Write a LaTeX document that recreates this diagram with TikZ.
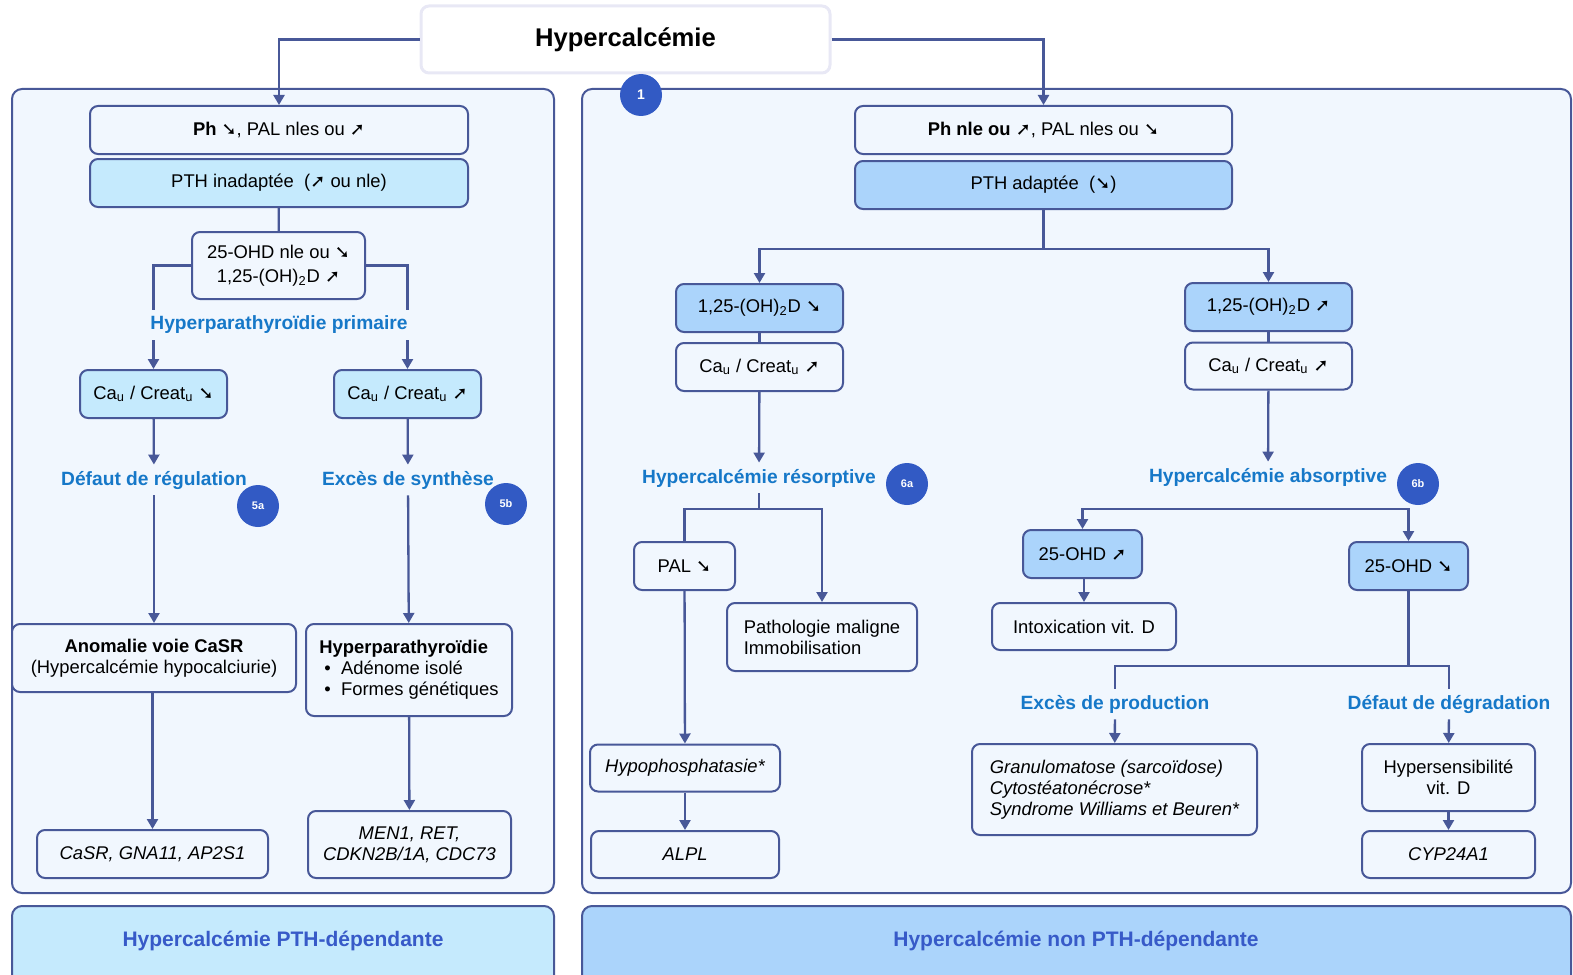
\documentclass[tikz,border=0pt]{standalone}
\usepackage{fontspec}
\setmainfont{Liberation Sans}
\newfontfamily\symfont{DejaVu Sans}
\usetikzlibrary{arrows.meta}

\definecolor{lineC}{RGB}{72,88,152}
\definecolor{lblC}{RGB}{22,120,200}
\definecolor{numC}{RGB}{50,90,196}
\definecolor{cyanC}{RGB}{197,234,253}
\definecolor{blueC}{RGB}{171,212,251}
\definecolor{panelC}{RGB}{241,247,254}
\definecolor{banC}{RGB}{55,90,200}
\definecolor{titleC}{RGB}{232,232,245}

\newcommand{\arrdn}{{\symfont\bfseries\fontsize{9}{9}\selectfont\char"2798}}
\newcommand{\arrup}{{\symfont\bfseries\fontsize{9}{9}\selectfont\char"279A}}

\begin{document}
\begin{tikzpicture}[x=0.5pt, y=-0.5pt,
  every node/.style={font=\fontsize{9.2}{10.5}\selectfont},
  box/.style={draw=lineC, line width=1pt, rounded corners=4pt, fill=panelC, align=center, inner sep=0pt},
  cbox/.style={box, fill=cyanC},
  bbox/.style={box, fill=blueC},
  gene/.style={box, font=\fontsize{9.2}{10.5}\selectfont\itshape},
  lbl/.style={text=lblC, inner sep=3pt, font=\fontsize{9.6}{12}\selectfont\bfseries},
  num/.style={circle, fill=numC, text=white, minimum size=21pt, inner sep=0pt, font=\fontsize{5.5}{6}\selectfont\bfseries},
  ln/.style={draw=lineC, line width=1.15pt},
  arr/.style={ln, -{Triangle[length=5pt,width=5.5pt]}}]
\clip (0,0) rectangle (1573,974);
% panels and banners
\draw[draw=lineC, line width=1pt, fill=panelC, rounded corners=5pt] (12,89) rectangle (554,893);
\draw[draw=lineC, line width=1pt, fill=panelC, rounded corners=5pt] (582,89) rectangle (1571,893);
\draw[draw=lineC, line width=1pt, fill=cyanC, rounded corners=5pt] (12,906) rectangle (554,1000);
\draw[draw=lineC, line width=1pt, fill=blueC, rounded corners=5pt] (582,906) rectangle (1571,1000);
\node[text=banC, font=\fontsize{10.5}{12}\selectfont\bfseries] (banL) at (283,941) {Hypercalcémie PTH-dépendante};
\node[text=banC, font=\fontsize{10.5}{12}\selectfont\bfseries] (banR) at (1076,941) {Hypercalcémie non PTH-dépendante};

\node[box, draw=titleC, line width=1.5pt, fill=white, minimum width=204.5pt, minimum height=33.5pt, font=\fontsize{12.8}{14}\selectfont\bfseries] (title) at (625.5,39.5) {Hypercalcémie};
\node[num, font=\fontsize{7}{8}\selectfont\bfseries] (n1) at (641,95) {1};

% PTH-dependante
\node[box, minimum width=189pt, minimum height=24pt] (ph1) at (279,130) {\textbf{Ph} \arrdn, PAL nles ou \arrup};
\node[cbox, minimum width=189pt, minimum height=24pt] (pth1) at (279,183) {PTH inadaptée\ \ (\arrup\ ou nle)};
\node[box, minimum width=86.5pt, minimum height=33.5pt, font=\fontsize{9.2}{12}\selectfont] (ohd1) at (278.5,265.5) {25-OHD nle ou \arrdn\\1,25-(OH)\textsubscript{2}D \arrup};
\node[lbl] (hpp) at (279,325) {Hyperparathyroïdie primaire};
\node[cbox, minimum width=73.5pt, minimum height=24pt] (cr1) at (153.5,394) {Ca\textsubscript{u} / Creat\textsubscript{u} \arrdn};
\node[cbox, minimum width=73.5pt, minimum height=24pt] (cr2) at (407.5,394) {Ca\textsubscript{u} / Creat\textsubscript{u} \arrup};
\node[lbl] (dreg) at (154,480) {Défaut de régulation};
\node[lbl] (esyn) at (408,480) {Excès de synthèse};
\node[num] (n5a) at (258,506) {5a};
\node[num] (n5b) at (506,504) {5b};
\node[box, minimum width=142pt, minimum height=34pt] (casr) at (154,658) {\textbf{Anomalie voie CaSR}\\(Hypercalcémie hypocalciurie)};
\node[box, minimum width=103pt, minimum height=46pt, align=left] (hpt) at (409,670) {\textbf{Hyperparathyroïdie}\\\ \textbullet\ \ Adénome isolé\\\ \textbullet\ \ Formes génétiques};
\node[gene, minimum width=115.5pt, minimum height=24pt] (gen1) at (152.5,854) {CaSR, GNA11, AP2S1};
\node[gene, minimum width=101.5pt, minimum height=33.5pt] (gen2) at (409.5,844.5) {MEN1, RET,\\CDKN2B/1A, CDC73};

% non PTH-dependante
\node[box, minimum width=188.5pt, minimum height=24pt] (ph2) at (1043.5,130) {\textbf{Ph nle ou} \arrup, PAL nles ou \arrdn};
\node[bbox, minimum width=188.5pt, minimum height=24pt] (pth2) at (1043.5,185) {PTH adaptée\ \ (\arrdn)};
\node[bbox, minimum width=83.5pt, minimum height=24pt] (vd1) at (759.5,308) {1,25-(OH)\textsubscript{2}D \arrdn};
\node[box, minimum width=83.5pt, minimum height=24pt] (cr3) at (759.5,367) {Ca\textsubscript{u} / Creat\textsubscript{u} \arrup};
\node[lbl] (hres) at (759,478) {Hypercalcémie résorptive};
\node[num] (n6a) at (907,484) {6a};
\node[box, minimum width=50.5pt, minimum height=24pt] (pal) at (684.5,566) {PAL \arrdn};
\node[box, minimum width=95pt, minimum height=34pt, align=left] (patho) at (822,637) {Pathologie maligne\\Immobilisation};
\node[gene, minimum width=95pt, minimum height=23.5pt] (hypo) at (685,768) {Hypophosphatasie*};
\node[gene, minimum width=94pt, minimum height=23.5pt] (alpl) at (685,854.5) {ALPL};
\node[bbox, minimum width=83.5pt, minimum height=24pt] (vd2) at (1268.5,307) {1,25-(OH)\textsubscript{2}D \arrup};
\node[box, minimum width=83.5pt, minimum height=23.5pt] (cr4) at (1268.5,366) {Ca\textsubscript{u} / Creat\textsubscript{u} \arrup};
\node[lbl] (habs) at (1268,477) {Hypercalcémie absorptive};
\node[num] (n6b) at (1418,484) {6b};
\node[bbox, minimum width=59.5pt, minimum height=24pt] (oh2) at (1082.5,554) {25-OHD \arrup};
\node[box, minimum width=92pt, minimum height=23.5pt] (intox) at (1084,626.5) {Intoxication vit. D};
\node[bbox, minimum width=59.5pt, minimum height=24pt] (oh3) at (1408.5,566) {25-OHD \arrdn};
\node[lbl] (eprod) at (1115,704) {Excès de production};
\node[lbl] (ddeg) at (1449,704) {Défaut de dégradation};
\node[gene, minimum width=142.5pt, minimum height=45.5pt, align=left] (granu) at (1114.5,789.5) {Granulomatose (sarcoïdose)\\Cytostéatonécrose*\\Syndrome Williams et Beuren*};
\node[box, minimum width=86.5pt, minimum height=33.5pt] (hsens) at (1448.5,777.5) {Hypersensibilité\\vit. D};
\node[gene, minimum width=86.5pt, minimum height=23.5pt] (cyp) at (1448.5,854.5) {CYP24A1};

% connectors
\draw[arr] (title.west) -| (ph1.north);
\draw[arr] (title.east) -| (ph2.north);
\draw[ln] (pth1) -- (ohd1);
\draw[ln] (ohd1.west) -| (cr1.north |- hpp.north);
\draw[ln] (ohd1.east) -| (cr2.north |- hpp.north);
\draw[arr] (cr1.north |- hpp.south) -- (cr1.north);
\draw[arr] (cr2.north |- hpp.south) -- (cr2.north);
\draw[arr] (cr1) -- (dreg);
\draw[arr] (cr2) -- (esyn);
\draw[arr] (dreg) -- (casr);
\draw[arr] (esyn) -- (hpt);
\draw[arr] (casr.south -| gen1.north) -- (gen1.north);
\draw[arr] (hpt) -- (gen2);

\coordinate (j1) at (1043.5,249);
\draw[ln] (pth2) -- (j1);
\draw[arr] (j1) -| (vd1.north);
\draw[arr] (j1) -| (vd2.north);
\draw[ln] (vd1) -- (cr3);
\draw[ln] (vd2) -- (cr4);
\draw[arr] (cr3) -- (hres);
\draw[arr] (cr4) -- (habs);
\coordinate (j2) at (759,509);
\draw[ln] (hres) -- (j2);
\draw[ln] (j2) -| (pal.north);
\draw[arr] (j2) -| (patho.north);
\draw[arr] (pal) -- (hypo);
\draw[arr] (hypo) -- (alpl);
\coordinate (j3) at (1250,509);
\draw[arr] (j3) -| (oh2.north);
\draw[arr] (j3) -| (oh3.north);
\draw[arr] (oh2.south -| intox.north) -- (intox.north);
\coordinate (j4) at (1408.5,666);
\draw[ln] (oh3) -- (j4);
\draw[ln] (j4) -| (eprod.north);
\draw[ln] (j4) -| (ddeg.north);
\draw[arr] (eprod) -- (granu);
\draw[arr] (ddeg) -- (hsens);
\draw[arr] (hsens) -- (cyp);
\end{tikzpicture}
\end{document}
